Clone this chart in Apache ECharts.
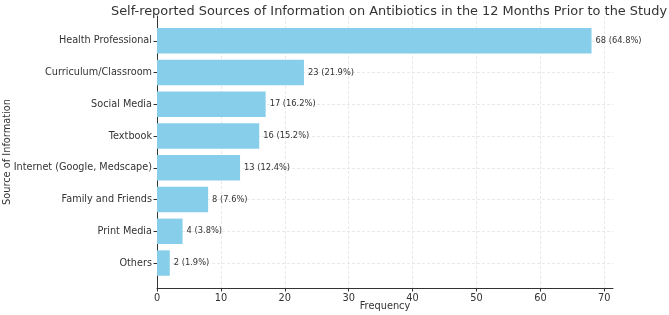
<!DOCTYPE html>
<html>
<head>
<meta charset="utf-8">
<script src="https://cdn.jsdelivr.net/npm/echarts@6/dist/echarts.min.js"></script>
<style>
  html, body { margin: 0; padding: 0; background: #fff; }
  #chart { width: 669px; height: 315px; }
</style>
</head>
<body>
<div id="chart"></div>
<script>
const categories = ['Health Professional', 'Curriculum/Classroom', 'Social Media', 'Textbook',
  'Internet (Google, Medscape)', 'Family and Friends', 'Print Media', 'Others'];
const counts = [68, 23, 17, 16, 13, 8, 4, 2];
const percents = ['64.8', '21.9', '16.2', '15.2', '12.4', '7.6', '3.8', '1.9'];
const xTicks = [0, 10, 20, 30, 40, 50, 60, 70];

const chart = echarts.init(document.getElementById('chart'));
const font = 'DejaVu Sans';
const xMax = 71.36;

// grid 0: frame + x axis, grid 1: bars, grid 2: horizontal grid lines at bar centres
const option = {
  animation: false,
  textStyle: { fontFamily: font },
  title: {
    text: 'Self-reported Sources of Information on Antibiotics in the 12 Months Prior to the Study',
    left: 384,
    textAlign: 'center',
    top: 0,
    textStyle: { fontFamily: font, fontSize: 12.9, fontWeight: 'normal', color: '#333' }
  },
  grid: [
    { left: 157, right: 56, top: 16, bottom: 27, outerBoundsMode: 'none', containLabel: false },
    { left: 157, right: 56, top: 24.9, bottom: 36.1, outerBoundsMode: 'none', containLabel: false },
    { left: 157, right: 56, top: 40.8, bottom: 52, outerBoundsMode: 'none', containLabel: false }
  ],
  xAxis: [
    {
      gridIndex: 0, type: 'value', min: 0, max: xMax, interval: 10,
      name: 'Frequency', nameLocation: 'middle', nameGap: 13, nameMoveOverlap: false,
      nameTextStyle: { fontSize: 9.8, color: '#333', verticalAlign: 'top' },
      axisLine: { show: true, lineStyle: { color: '#333', width: 1 } },
      axisTick: { show: true, length: 3.5, lineStyle: { color: '#333' }, customValues: xTicks },
      axisLabel: { fontSize: 9.8, color: '#333', margin: 5, customValues: xTicks },
      splitLine: { show: true, lineStyle: { color: '#e3e3e3', type: [3, 2], width: 0.8 } }
    },
    { gridIndex: 1, type: 'value', min: 0, max: xMax, show: false },
    { gridIndex: 2, type: 'value', min: 0, max: xMax, show: false }
  ],
  yAxis: [
    {
      gridIndex: 0, type: 'value', min: 0, max: 1,
      name: 'Source of Information', nameLocation: 'middle', nameGap: 145, nameMoveOverlap: false,
      nameTextStyle: { fontSize: 9.8, color: '#333' },
      axisLine: { show: true, lineStyle: { color: '#333', width: 1 } },
      axisTick: { show: false }, axisLabel: { show: false }, splitLine: { show: false }
    },
    {
      gridIndex: 1, type: 'category', data: categories, inverse: true,
      axisLine: { show: false },
      axisTick: { show: true, alignWithLabel: true, length: 3.5, lineStyle: { color: '#333' } },
      axisLabel: { fontSize: 9.7, color: '#333', margin: 5 },
      splitLine: { show: false }
    },
    {
      gridIndex: 2, type: 'value', min: 0, max: 7, interval: 1,
      axisLine: { show: false }, axisTick: { show: false }, axisLabel: { show: false },
      splitLine: { show: true, lineStyle: { color: '#e3e3e3', type: [3, 2], width: 0.8 } }
    }
  ],
  series: [
    {
      type: 'bar',
      xAxisIndex: 1,
      yAxisIndex: 1,
      data: counts,
      barWidth: '80%',
      itemStyle: { color: '#87CEEB' },
      z: 5,
      label: {
        show: true,
        position: 'right',
        distance: 4,
        fontSize: 8.3,
        color: '#333',
        formatter: p => p.value + ' (' + percents[p.dataIndex] + '%)'
      }
    }
  ]
};

chart.setOption(option);
</script>
</body>
</html>
